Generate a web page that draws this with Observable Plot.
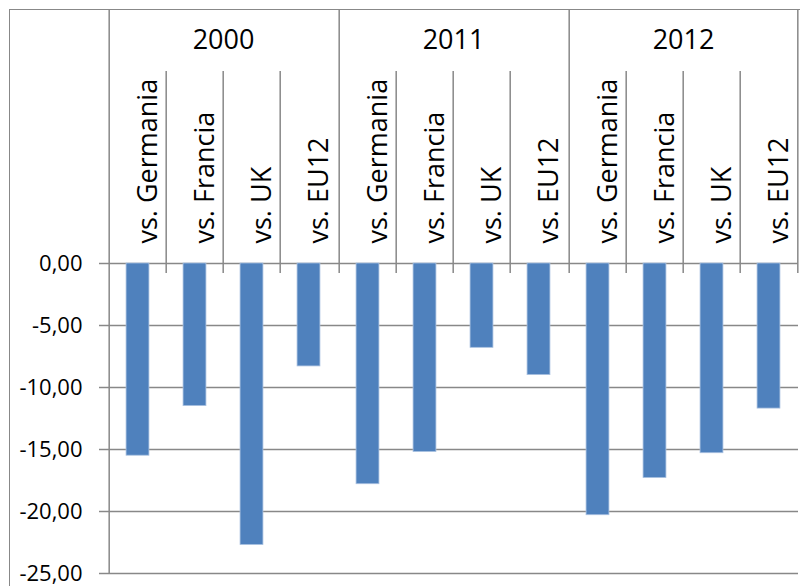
<!DOCTYPE html>
<html><head><meta charset="utf-8">
<script src="https://cdn.jsdelivr.net/npm/d3@7"></script>
<script src="https://cdn.jsdelivr.net/npm/@observablehq/plot@0.6"></script>
<style>
body{margin:0;background:#fff;}
#wrap{position:relative;width:800px;height:586px;overflow:hidden;}
#border{position:absolute;left:9px;top:9px;width:830px;height:620px;border-left:1.5px solid #888;border-top:1.5px solid #888;pointer-events:none;}
svg{display:block;}
</style></head><body><div id="wrap"><div id="border"></div></div>
<script>
// ---- data ----
const years = ["2000", "2011", "2012"];
const comparators = ["vs. Germania", "vs. Francia", "vs. UK", "vs. EU12"];
const values2000 = [-15.5, -11.5, -22.7, -8.3];
const values2011 = [-17.8, -15.2, -6.8, -9.0];
const values2012 = [-20.3, -17.3, -15.3, -11.7];
const yTicks = [0, -5, -10, -15, -20, -25];

const seriesByYear = [values2000, values2011, values2012];
const data = years.flatMap((yr, i) => comparators.map((c, j) => ({year: yr, comp: c, value: seriesByYear[i][j]})));

// ---- layout ----
const W = 800, H = 586;
const ML = 107, MR = 1.5, MT = 263, MB = 13;
const step = (W - ML - MR) / years.length / comparators.length;
const barW = 23.5;
const inset = (step - barW) / 2;
const headerTop = 10;     // top of table header (px from top)
const labelRowTop = 71;   // top of category-label cells
const tickBelow = 10;     // separators run below zero line
const grey = "#888888";
const lw = 1.5;
const font = "'Open Sans', sans-serif";

const innerH = H - MT - MB;

const firstCells = years.map(y => ({year: y, comp: comparators[0]}));
const innerCells = years.flatMap(y => comparators.slice(1).map(c => ({year: y, comp: c})));

const chart = Plot.plot({
  width: W, height: H,
  marginLeft: ML, marginRight: MR, marginTop: MT, marginBottom: MB,
  style: {fontFamily: font, background: "white", overflow: "visible"},
  fx: {domain: years, padding: 0, axis: null, label: null},
  x: {domain: comparators, padding: 0, axis: null, label: null},
  y: {domain: [-25, 0], label: null},
  marks: [
    Plot.gridY(yTicks, {stroke: grey, strokeOpacity: 1, strokeWidth: lw}),
    Plot.axisY(yTicks, {
      tickSize: 9, tickPadding: 17, stroke: grey, strokeWidth: lw, fill: "black", fontSize: 22,
      tickFormat: d => d.toFixed(2).replace(".", ","), label: null
    }),
    // y-axis line + header left edge (first year only)
    Plot.ruleX([firstCells[0]], {fx: "year", x: "comp", dx: -step / 2, insetTop: -(MT - headerTop), stroke: grey, strokeWidth: lw}),
    // group separators (left edge of later years)
    Plot.ruleX(firstCells.slice(1), {fx: "year", x: "comp", dx: -step / 2, insetTop: -(MT - headerTop), insetBottom: innerH - tickBelow, stroke: grey, strokeWidth: lw}),
    // right edge of last group
    Plot.ruleX([{year: years[years.length - 1], comp: comparators[comparators.length - 1]}], {fx: "year", x: "comp", dx: step / 2, insetTop: -(MT - headerTop), insetBottom: innerH - tickBelow, stroke: grey, strokeWidth: lw}),
    // category separators
    Plot.ruleX(innerCells, {fx: "year", x: "comp", dx: -step / 2, insetTop: -(MT - labelRowTop), insetBottom: innerH - tickBelow, stroke: grey, strokeWidth: lw}),
    // bars
    Plot.barY(data, {fx: "year", x: "comp", y: "value", fill: "#4F81BD", stroke: "#a9c1e0", strokeWidth: 0.8, insetLeft: inset, insetRight: inset}),
    // year labels
    Plot.text(years, {fx: d => d, text: d => d, frameAnchor: "top", dy: -(MT - 29), fontSize: 27, fill: "black"}),
    // category labels
    Plot.text(data, {fx: "year", x: "comp", text: "comp", frameAnchor: "top", rotate: -90, textAnchor: "start", dy: -20, fontSize: 27, fill: "black"})
  ]
});
document.getElementById("wrap").prepend(chart);
</script>
</body></html>
